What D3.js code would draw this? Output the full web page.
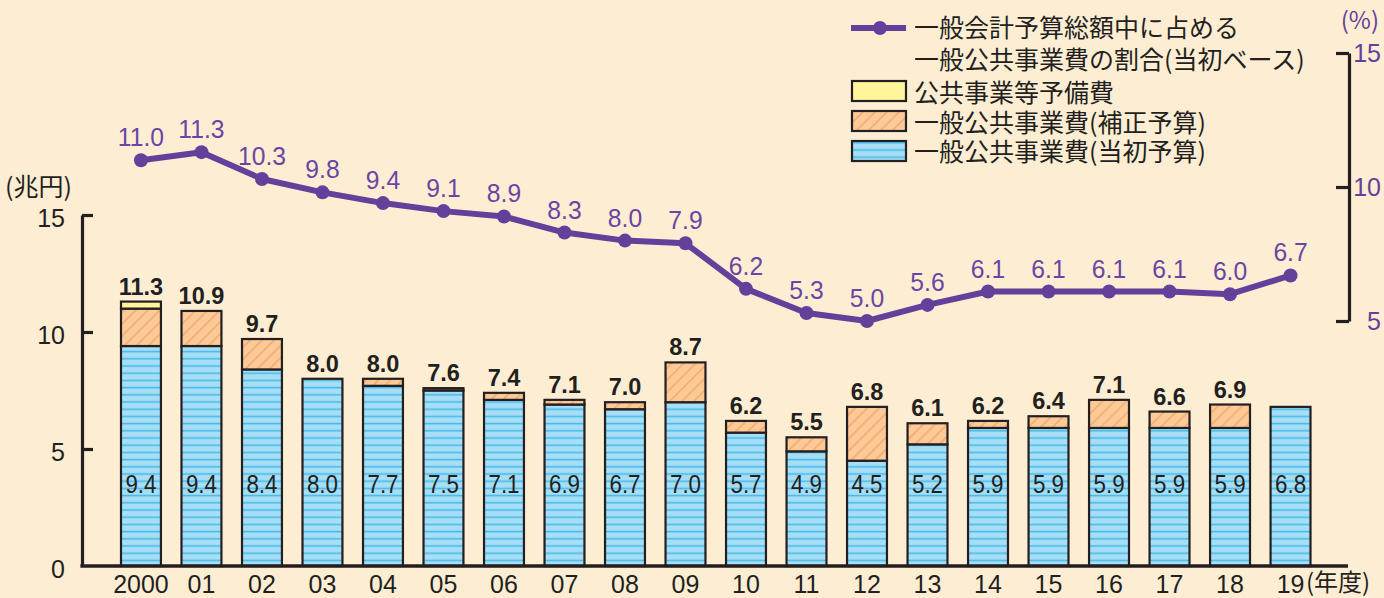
<!DOCTYPE html>
<html lang="ja">
<head>
<meta charset="utf-8">
<script src="https://cdn.jsdelivr.net/npm/d3@7"></script>
<style>
  html, body { margin: 0; padding: 0; background: #fdeed3; }
  svg { display: block; }
  .num { font-family: "Liberation Sans", Arial, sans-serif; }
  .jp  { font-family: "Noto Sans CJK JP", "Noto Sans", sans-serif; }
</style>
</head>
<body>
<svg id="chart" width="1384" height="598"></svg>
<script>
// 年度
const years = ["2000","01","02","03","04","05","06","07","08","09",
               "10","11","12","13","14","15","16","17","18","19"];
// 一般公共事業費（当初予算）, 兆円
const initialBudget = [9.4,9.4,8.4,8.0,7.7,7.5,7.1,6.9,6.7,7.0,
                       5.7,4.9,4.5,5.2,5.9,5.9,5.9,5.9,5.9,6.8];
// 公共事業等予備費, 兆円
const reserveFund   = [0.3,0,0,0,0,0,0,0,0,0,0,0,0,0,0,0,0,0,0,0];
// 補正後の合計（棒の上の数値）, 兆円
const totalBudget   = [11.3,10.9,9.7,8.0,8.0,7.6,7.4,7.1,7.0,8.7,
                       6.2,5.5,6.8,6.1,6.2,6.4,7.1,6.6,6.9,null];
// 一般会計予算総額中に占める一般公共事業費の割合（当初ベース）, %
const shareRatio    = [11.0,11.3,10.3,9.8,9.4,9.1,8.9,8.3,8.0,7.9,
                       6.2,5.3,5.0,5.6,6.1,6.1,6.1,6.1,6.0,6.7];
const leftTicks  = [0, 5, 10, 15];
const rightTicks = [5, 10, 15];

const rows = years.map((y, i) => {
  const init = initialBudget[i];
  const res = reserveFund[i];
  const tot = totalBudget[i] == null ? init : totalBudget[i];
  const supp = Math.max(0, +(tot - init - res).toFixed(2));
  return { year: y, init, supp, res, total: totalBudget[i], ratio: shareRatio[i] };
});

const svg = d3.select("#chart");
const fmt = d3.format(".1f");

const AX_LEFT = 82, AX_RIGHT = 1349, BASE = 566;
const x = d3.scaleBand().domain(years).range([121, 1310.5]).paddingInner(0.34).paddingOuter(0);
const yL = d3.scaleLinear().domain([0, 15]).range([BASE, 215]);
const yR = d3.scaleLinear().domain([5, 15]).range([321, 53]);

const INK = "#231f20";
const PURPLE = "#65409a";

// ---- patterns ----
const defs = svg.append("defs");
const pBlue = defs.append("pattern").attr("id", "pBlue")
  .attr("patternUnits", "userSpaceOnUse").attr("width", 8).attr("height", 7.2);
pBlue.append("rect").attr("width", 8).attr("height", 7.2).attr("fill", "#a8ddf6");
pBlue.append("rect").attr("y", 5.2).attr("width", 8).attr("height", 1.6).attr("fill", "#45bde9");

const pOrange = defs.append("pattern").attr("id", "pOrange")
  .attr("patternUnits", "userSpaceOnUse").attr("width", 8.5).attr("height", 8.5)
  .attr("patternTransform", "rotate(45)");
pOrange.append("rect").attr("width", 8.5).attr("height", 8.5).attr("fill", "#fcc999");
pOrange.append("rect").attr("x", 0).attr("width", 1.6).attr("height", 8.5).attr("fill", "#f6ab6c");

const yellowFill = "#fff59b";

// ---- bars ----
const bw = x.bandwidth();
const g = svg.append("g");

const segs = [];
rows.forEach(d => {
  let acc = 0;
  [["init", "url(#pBlue)"], ["supp", "url(#pOrange)"], ["res", yellowFill]].forEach(([k, fill]) => {
    if (d[k] > 0) {
      segs.push({ year: d.year, y0: acc, y1: acc + d[k], fill });
      acc += d[k];
    }
  });
});

g.selectAll("rect.seg").data(segs).join("rect")
  .attr("class", "seg")
  .attr("x", d => x(d.year))
  .attr("width", bw)
  .attr("y", d => yL(d.y1))
  .attr("height", d => yL(d.y0) - yL(d.y1))
  .attr("fill", d => d.fill)
  .attr("stroke", INK)
  .attr("stroke-width", 2.2);

// 当初予算 values inside bars (narrow numerals)
g.selectAll("text.inner").data(rows).join("text")
  .attr("class", "inner num")
  .attr("transform", d => `translate(${x(d.year) + bw / 2},${yL(3.5)}) scale(0.86,1)`)
  .attr("text-anchor", "middle")
  .attr("dy", "0.36em")
  .attr("font-size", 26)
  .attr("fill", INK)
  .text(d => fmt(d.init));

// totals above bars
g.selectAll("text.total").data(rows.filter(d => d.total != null)).join("text")
  .attr("class", "total num")
  .attr("x", d => x(d.year) + bw / 2)
  .attr("y", d => yL(d.total) - 7)
  .attr("text-anchor", "middle")
  .attr("font-size", 23.5)
  .attr("font-weight", "bold")
  .attr("fill", INK)
  .text(d => fmt(d.total));

// ---- axes ----
const axL = svg.append("g").attr("transform", `translate(${AX_LEFT},0)`)
  .call(d3.axisLeft(yL).tickValues(leftTicks).tickSize(-11).tickSizeOuter(0).tickPadding(17).tickFormat(d3.format("d")));
axL.select(".domain").attr("stroke", INK).attr("stroke-width", 3.2);
axL.selectAll(".tick line").attr("stroke", INK).attr("stroke-width", 3.2);
axL.selectAll(".tick text").attr("class", "num").attr("font-size", 25).attr("fill", INK).attr("dy", "0.45em");
axL.selectAll(".tick").filter(d => d === 0).select("line").remove();

// baseline
svg.append("line")
  .attr("x1", AX_LEFT - 1.6).attr("x2", 1348).attr("y1", BASE).attr("y2", BASE)
  .attr("stroke", INK).attr("stroke-width", 3.4);

// year labels
const axB = svg.append("g").attr("transform", `translate(0,${BASE})`)
  .call(d3.axisBottom(x).tickSize(0).tickPadding(9));
axB.select(".domain").remove();
axB.selectAll(".tick text").attr("class", "num").attr("font-size", 25).attr("fill", INK)
  .attr("dy", "0.72em");

svg.append("text").attr("class", "jp")
  .attr("x", 1306).attr("y", 591)
  .attr("font-size", 24).attr("fill", INK)
  .text("(年度)");

svg.append("text").attr("class", "jp")
  .attr("x", 5).attr("y", 196)
  .attr("font-size", 25).attr("fill", INK)
  .text("(兆円)");

// right axis (%)
const axR = svg.append("g").attr("transform", `translate(${AX_RIGHT},0)`)
  .call(d3.axisRight(yR).tickValues(rightTicks).tickSize(-13).tickSizeOuter(0).tickPadding(0).tickFormat(d3.format("d")));
axR.select(".domain").attr("stroke", INK).attr("stroke-width", 3.2);
axR.selectAll(".tick line").attr("stroke", INK).attr("stroke-width", 3.2);
axR.selectAll(".tick text").attr("class", "num").attr("font-size", 25).attr("fill", PURPLE)
  .attr("text-anchor", "end").attr("x", 32);

svg.append("text").attr("class", "jp")
  .attr("x", 1379).attr("y", 29).attr("text-anchor", "end")
  .attr("font-size", 24).attr("fill", PURPLE)
  .text("(%)");

// ---- ratio line ----
const cx = d => x(d.year) + bw / 2;
svg.append("path").datum(rows)
  .attr("fill", "none")
  .attr("stroke", PURPLE)
  .attr("stroke-width", 6)
  .attr("stroke-linejoin", "round")
  .attr("d", d3.line().x(cx).y(d => yR(d.ratio)));

svg.selectAll("circle.pt").data(rows).join("circle")
  .attr("class", "pt")
  .attr("cx", cx).attr("cy", d => yR(d.ratio)).attr("r", 7)
  .attr("fill", PURPLE);

svg.selectAll("text.ratio").data(rows).join("text")
  .attr("class", "ratio num")
  .attr("transform", d => `translate(${cx(d)},${yR(d.ratio) - 14}) scale(0.95,1)`)
  .attr("text-anchor", "middle")
  .attr("font-size", 26)
  .attr("fill", "#6a45a3")
  .text(d => fmt(d.ratio));

// ---- legend ----
const lg = svg.append("g");
lg.append("line").attr("x1", 851).attr("x2", 906).attr("y1", 28).attr("y2", 28)
  .attr("stroke", PURPLE).attr("stroke-width", 6);
lg.append("circle").attr("cx", 880).attr("cy", 28).attr("r", 7).attr("fill", PURPLE);

const swatches = [
  { y: 91,  fill: yellowFill },
  { y: 121, fill: "url(#pOrange)" },
  { y: 151, fill: "url(#pBlue)" }
];
lg.selectAll("rect.sw").data(swatches).join("rect")
  .attr("class", "sw")
  .attr("x", 852).attr("y", d => d.y - 10).attr("width", 54).attr("height", 20)
  .attr("fill", d => d.fill).attr("stroke", INK).attr("stroke-width", 2.2);

const legendText = [
  { y: 28,  t: "一般会計予算総額中に占める" },
  { y: 60,  t: "一般公共事業費の割合(当初ベース)" },
  { y: 93,  t: "公共事業等予備費" },
  { y: 123, t: "一般公共事業費(補正予算)" },
  { y: 152, t: "一般公共事業費(当初予算)" }
];
lg.selectAll("text.lt").data(legendText).join("text")
  .attr("class", "lt jp")
  .attr("x", 914).attr("y", d => d.y).attr("dy", "0.36em")
  .attr("font-size", 25).attr("fill", INK)
  .text(d => d.t);
</script>
</body>
</html>
